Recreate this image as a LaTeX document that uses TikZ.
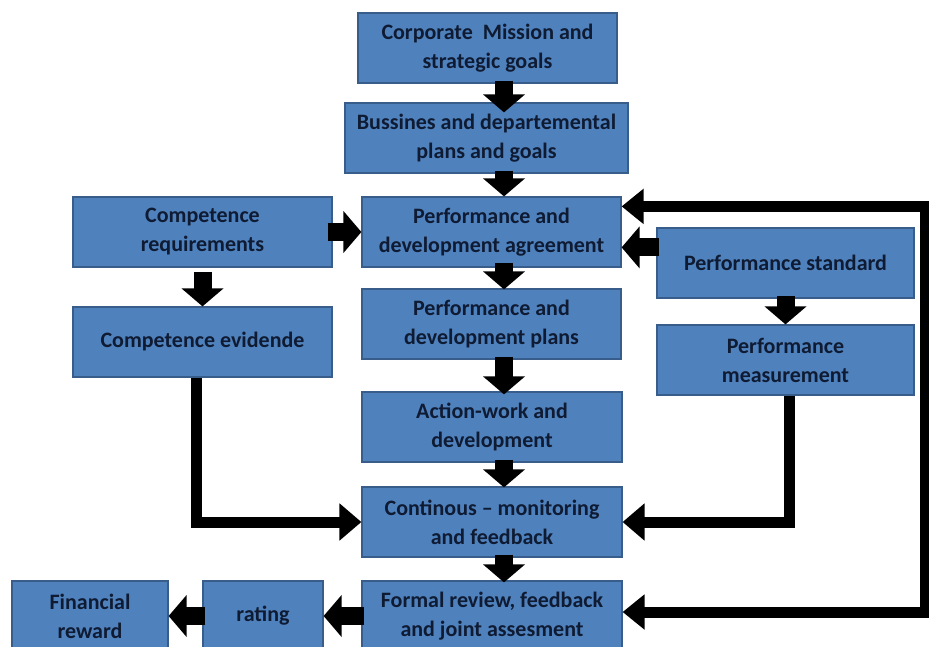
\documentclass[tikz,border=0pt]{standalone}
\usepackage{fontspec}
\setmainfont{Carlito}
\usetikzlibrary{arrows.meta}
\definecolor{boxblue}{HTML}{4F81BD}
\definecolor{boxedge}{HTML}{385D8A}
\definecolor{ink}{HTML}{0F1B33}
\tikzset{
  stagebox/.style={draw=boxedge, line width=1.2pt, fill=boxblue, text=ink, align=center,
    font=\bfseries\fontsize{22}{29}\selectfont, inner sep=0pt, minimum height=70pt},
  blockarrow/.style={line width=18pt, -{Triangle[length=18pt,width=41pt]}},
  linkarrow/.style={line width=11pt, -{Triangle[length=22pt,width=36pt]}},
}

\begin{document}
\begin{tikzpicture}[x=1pt,y=-1pt]
  \fill[white] (0,0) rectangle (929,647);
  \useasboundingbox (0,0) rectangle (929,647);

  \node[stagebox, minimum width=259pt] (corp) at (487.5,48) {Corporate\ \ Mission and\\strategic goals};
  \node[stagebox, minimum width=283pt] (bus) at (486.5,138) {Bussines and departemental\\plans and goals};
  \node[stagebox, minimum width=259pt] (pda) at (491.5,232) {Performance and\\development agreement};
  \node[stagebox, minimum width=259pt] (pdp) at (491.5,324) {Performance and\\development plans};
  \node[stagebox, minimum width=260pt] (act) at (492,427) {Action-work and\\development};
  \node[stagebox, minimum width=260pt] (cont) at (492,522) {Continous -- monitoring\\and feedback};
  \node[stagebox, minimum width=260pt] (formal) at (492,616) {Formal review, feedback\\and joint assesment};
  \node[stagebox, minimum width=259pt] (creq) at (202.5,232) {Competence\\requirements};
  \node[stagebox, minimum width=259pt] (cevid) at (202.5,342) {Competence evidende};
  \node[stagebox, minimum width=257pt] (pstd) at (785.5,263) {Performance standard};
  \node[stagebox, minimum width=257pt] (pmeas) at (785.5,360) {Performance\\measurement};
  \node[stagebox, minimum width=120pt] (rating) at (263,616) {rating};
  \node[stagebox, minimum width=156pt] (reward) at (90,616) {Financial\\reward};
  \coordinate (spine) at (504,0);
  \coordinate (rim) at (925,400);

  \draw[blockarrow] ([yshift=3pt]corp.south -| spine) -- ([yshift=-10pt]bus.north -| spine);
  \draw[blockarrow] ([yshift=3pt]bus.south -| spine) -- (pda.north -| spine);
  \draw[blockarrow] ([yshift=5pt]pda.south -| spine) -- ([yshift=-1pt]pdp.north -| spine);
  \draw[blockarrow] ([yshift=3pt]pdp.south -| spine) -- ([yshift=-3pt]act.north -| spine);
  \draw[blockarrow] ([yshift=3pt]act.south -| spine) -- ([yshift=-1pt]cont.north -| spine);
  \draw[blockarrow] ([yshift=3pt]cont.south -| spine) -- ([yshift=-2pt]formal.north -| spine);
  \draw[blockarrow] ([xshift=-5pt]creq.east) -- (pda.west);
  \draw[blockarrow] ([yshift=-4pt]creq.south) -- (cevid.north);
  \draw[blockarrow] ([xshift=3pt,yshift=-20pt]pstd.north west) -- ([yshift=-20pt]pstd.north west -| pda.east);
  \draw[blockarrow] ([yshift=3pt]pstd.south) -- (pmeas.north);
  \draw[blockarrow] ([xshift=3pt]formal.west) -- (rating.east);
  \draw[blockarrow] ([xshift=3pt]rating.west) -- (reward.east);

  \draw[linkarrow] ([xshift=-6pt]cevid.south) |- (cont.west);
  \draw[linkarrow] ([xshift=4pt]pmeas.south) |- (cont.east);
  \draw[linkarrow, {Triangle[length=22pt,width=34pt]}-{Triangle[length=22pt,width=34pt]}]
    ([yshift=-10pt]pda.north east) -| (rim) |- ([yshift=4pt]formal.east);
\end{tikzpicture}
\end{document}
